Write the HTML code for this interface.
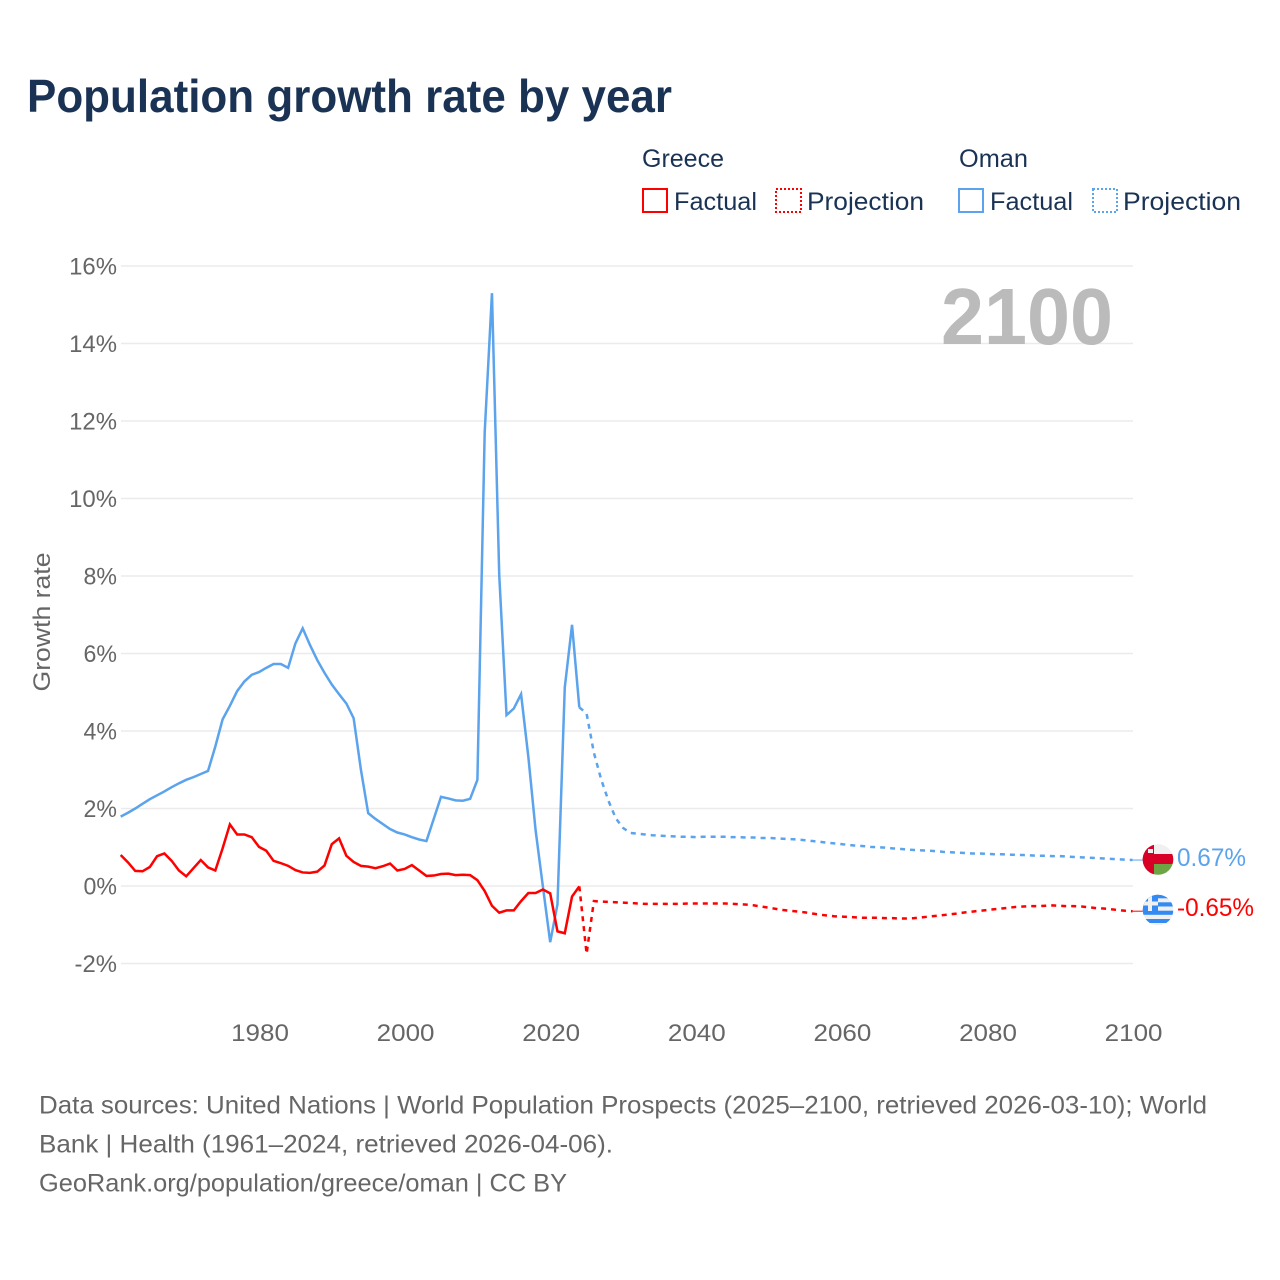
<!DOCTYPE html>
<html lang="en">
<head>
<meta charset="utf-8">
<title>Population growth rate by year</title>
<style>
html,body{margin:0;padding:0;background:#fff;width:1280px;height:1280px;overflow:hidden}
svg{display:block}
text{font-family:"Liberation Sans",sans-serif}
</style>
</head>
<body>
<svg id="chart" width="1280" height="1280" viewBox="0 0 1280 1280" xmlns="http://www.w3.org/2000/svg">
<defs>
<clipPath id="clip-oman"><circle cx="1158" cy="859.5" r="15.3"/></clipPath>
<clipPath id="clip-greece"><circle cx="1158" cy="910" r="15.3"/></clipPath>
</defs>
<rect x="0" y="0" width="1280" height="1280" fill="#fff"/>
<text x="27" y="112" font-size="46" font-weight="700" fill="#1a3355" textLength="645" lengthAdjust="spacingAndGlyphs">Population growth rate by year</text>

<g font-size="25" fill="#1a3355">
<text x="642" y="167" textLength="82" lengthAdjust="spacingAndGlyphs">Greece</text>
<text x="959" y="167" textLength="69" lengthAdjust="spacingAndGlyphs">Oman</text>
<rect x="643" y="189" width="24" height="23" fill="none" stroke="#ff0000" stroke-width="2"/>
<text x="674" y="210" textLength="83" lengthAdjust="spacingAndGlyphs">Factual</text>
<rect x="776" y="189" width="25" height="23" fill="none" stroke="#ff0000" stroke-width="2" stroke-dasharray="2 2"/>
<text x="807" y="210" textLength="117" lengthAdjust="spacingAndGlyphs">Projection</text>
<rect x="959" y="189" width="24" height="23" fill="none" stroke="#5ba3ec" stroke-width="2"/>
<text x="990" y="210" textLength="83" lengthAdjust="spacingAndGlyphs">Factual</text>
<rect x="1093" y="189" width="24" height="23" fill="none" stroke="#5ba3ec" stroke-width="2" stroke-dasharray="2 2"/>
<text x="1123" y="210" textLength="118" lengthAdjust="spacingAndGlyphs">Projection</text>
</g>

<g id="grid"></g>
<g id="yticks" font-size="24" fill="#666"></g>
<g id="xticks" font-size="24" fill="#666"></g>
<text transform="translate(50,622) rotate(-90)" text-anchor="middle" font-size="24" fill="#666" textLength="139" lengthAdjust="spacingAndGlyphs">Growth rate</text>
<text x="941" y="344" font-size="80" font-weight="700" fill="#bbbbbb" textLength="172" lengthAdjust="spacingAndGlyphs">2100</text>
<g id="series"></g>

<g clip-path="url(#clip-oman)">
<rect x="1142" y="843" width="32" height="34" fill="#f0f0f0"/>
<rect x="1142" y="854" width="32" height="10" fill="#d80027"/>
<rect x="1142" y="864" width="32" height="13" fill="#6da544"/>
<rect x="1142" y="843" width="12" height="34" fill="#d80027"/>
<rect x="1148" y="849" width="5" height="4" fill="#f0f0f0"/>
</g>
<g clip-path="url(#clip-greece)">
<rect x="1142" y="894" width="32" height="32" fill="#f0f0f0"/>
<rect x="1142" y="894" width="32" height="4.3" fill="#338af3"/>
<rect x="1142" y="902.3" width="32" height="4.2" fill="#338af3"/>
<rect x="1142" y="910.7" width="32" height="4.1" fill="#338af3"/>
<rect x="1142" y="919" width="32" height="4" fill="#338af3"/>
<rect x="1142" y="894" width="16" height="17" fill="#338af3"/>
<rect x="1148" y="894" width="4" height="17" fill="#f0f0f0"/>
<rect x="1142" y="901.5" width="16" height="4" fill="#f0f0f0"/>
</g>
<text x="1177" y="866" font-size="25" fill="#5ba3ec" textLength="69" lengthAdjust="spacingAndGlyphs">0.67%</text>
<text x="1177" y="916" font-size="25" fill="#ff0000" textLength="77" lengthAdjust="spacingAndGlyphs">-0.65%</text>

<g font-size="25" fill="#666">
<text x="39" y="1113.5" textLength="1168" lengthAdjust="spacingAndGlyphs">Data sources: United Nations | World Population Prospects (2025–2100, retrieved 2026-03-10); World</text>
<text x="39" y="1152.5" textLength="574" lengthAdjust="spacingAndGlyphs">Bank | Health (1961–2024, retrieved 2026-04-06).</text>
<text x="39" y="1191.5" textLength="528" lengthAdjust="spacingAndGlyphs">GeoRank.org/population/greece/oman | CC BY</text>
</g>
</svg>
<script>
const xTickYears = [1980, 2000, 2020, 2040, 2060, 2080, 2100];
const yTickValues = [-2, 0, 2, 4, 6, 8, 10, 12, 14, 16];
const factualStartYear = 1961;
const projectionStartYear = 2024;
const omanFactual = [1.79,1.89,2.0,2.12,2.24,2.34,2.44,2.55,2.65,2.74,2.81,2.89,2.97,3.6,4.3,4.65,5.03,5.28,5.45,5.52,5.63,5.73,5.73,5.63,6.26,6.65,6.22,5.83,5.5,5.2,4.95,4.71,4.33,3.0,1.88,1.73,1.6,1.47,1.38,1.33,1.26,1.2,1.16,1.73,2.3,2.26,2.21,2.2,2.25,2.74,11.7,15.3,8.02,4.41,4.58,4.95,3.33,1.43,-0.02,-1.45,-0.47,5.12,6.74,4.61];
const greeceFactual = [0.80,0.61,0.39,0.38,0.49,0.77,0.84,0.65,0.40,0.25,0.46,0.67,0.48,0.40,0.97,1.59,1.33,1.33,1.26,1.01,0.91,0.65,0.59,0.52,0.41,0.35,0.34,0.37,0.53,1.08,1.23,0.78,0.62,0.52,0.50,0.46,0.51,0.58,0.40,0.44,0.54,0.40,0.26,0.27,0.31,0.32,0.28,0.29,0.28,0.15,-0.13,-0.51,-0.69,-0.63,-0.63,-0.39,-0.18,-0.18,-0.09,-0.19,-1.17,-1.22,-0.27,-0.01];
const omanProjection = [4.61,4.45,3.44,2.75,2.2,1.75,1.5,1.37,1.35,1.33,1.31,1.3,1.29,1.28,1.27,1.27,1.26,1.27,1.27,1.27,1.27,1.26,1.26,1.25,1.25,1.24,1.24,1.23,1.22,1.21,1.2,1.18,1.16,1.14,1.12,1.1,1.08,1.06,1.04,1.03,1.01,1.0,0.99,0.97,0.96,0.94,0.93,0.92,0.91,0.9,0.88,0.87,0.86,0.85,0.84,0.84,0.83,0.82,0.82,0.81,0.8,0.8,0.79,0.78,0.78,0.77,0.77,0.76,0.75,0.74,0.73,0.72,0.71,0.7,0.69,0.68,0.67];
const greeceProjection = [-0.01,-1.75,-0.39,-0.4,-0.41,-0.42,-0.43,-0.44,-0.45,-0.46,-0.46,-0.46,-0.46,-0.46,-0.46,-0.45,-0.45,-0.45,-0.45,-0.45,-0.45,-0.46,-0.47,-0.48,-0.5,-0.53,-0.56,-0.59,-0.62,-0.64,-0.66,-0.68,-0.71,-0.74,-0.76,-0.78,-0.79,-0.8,-0.81,-0.82,-0.82,-0.82,-0.83,-0.83,-0.84,-0.84,-0.83,-0.81,-0.79,-0.77,-0.75,-0.73,-0.71,-0.68,-0.66,-0.64,-0.62,-0.6,-0.58,-0.56,-0.54,-0.53,-0.52,-0.52,-0.51,-0.5,-0.51,-0.52,-0.52,-0.53,-0.55,-0.57,-0.58,-0.6,-0.62,-0.64,-0.65];

const SVGNS = 'http://www.w3.org/2000/svg';
function xScale(year) { return 259 + (year - 1980) * 7.28; }
function yScale(value) { return 886 - value * 38.75; }
function labelWidth(label) {
  let w = 0;
  for (const c of String(label)) { w += c === '%' ? 19 : c === '-' ? 9 : 14.45; }
  return w;
}
function buildPath(values, startYear) {
  return values.map(function (v, i) {
    return (i ? 'L' : 'M') + xScale(startYear + i).toFixed(2) + ' ' + yScale(v).toFixed(2);
  }).join(' ');
}
function make(tag, parent) {
  const el = document.createElementNS(SVGNS, tag);
  parent.appendChild(el);
  return el;
}

const grid = document.getElementById('grid');
const yticks = document.getElementById('yticks');
yTickValues.forEach(function (v) {
  const line = make('line', grid);
  
  
  line.setAttribute('x1', 121);
  line.setAttribute('x2', 1133);
  line.setAttribute('y1', yScale(v));
  line.setAttribute('y2', yScale(v));
  line.setAttribute('stroke', '#ebebeb');
  line.setAttribute('stroke-width', '1.5');
  const t = make('text', yticks);
  
  
  const label = v + '%';
  const w = labelWidth(label);
  t.setAttribute('x', 117 - w);
  t.setAttribute('y', yScale(v) + 8.5);
  t.setAttribute('textLength', w);
  t.setAttribute('lengthAdjust', 'spacingAndGlyphs');
  t.textContent = label;
});

const xticks = document.getElementById('xticks');
xTickYears.forEach(function (year) {
  const t = make('text', xticks);
  
  
  const w = labelWidth(year);
  t.setAttribute('x', xScale(year) + 1 - w / 2);
  t.setAttribute('y', 1041);
  t.setAttribute('textLength', w);
  t.setAttribute('lengthAdjust', 'spacingAndGlyphs');
  t.textContent = year;
});

const series = document.getElementById('series');

const omanLine = make('path', series);


omanLine.setAttribute('d', buildPath(omanFactual, factualStartYear));
omanLine.setAttribute('fill', 'none');
omanLine.setAttribute('stroke', '#5ba3ec');
omanLine.setAttribute('stroke-width', '2.5');

const omanProj = make('path', series);


omanProj.setAttribute('d', buildPath(omanProjection, projectionStartYear));
omanProj.setAttribute('fill', 'none');
omanProj.setAttribute('stroke', '#5ba3ec');
omanProj.setAttribute('stroke-width', '2.5');
omanProj.setAttribute('stroke-dasharray', '5 5');

const greeceLine = make('path', series);


greeceLine.setAttribute('d', buildPath(greeceFactual, factualStartYear));
greeceLine.setAttribute('fill', 'none');
greeceLine.setAttribute('stroke', '#ff0000');
greeceLine.setAttribute('stroke-width', '2.5');

const greeceProj = make('path', series);


greeceProj.setAttribute('d', buildPath(greeceProjection, projectionStartYear));
greeceProj.setAttribute('fill', 'none');
greeceProj.setAttribute('stroke', '#ff0000');
greeceProj.setAttribute('stroke-width', '2.5');
greeceProj.setAttribute('stroke-dasharray', '5 5');

const omanConnector = make('line', series);


omanConnector.setAttribute('x1', xScale(2100));
omanConnector.setAttribute('x2', 1143);
omanConnector.setAttribute('y1', yScale(omanProjection[omanProjection.length - 1]));
omanConnector.setAttribute('y2', yScale(omanProjection[omanProjection.length - 1]));
omanConnector.setAttribute('stroke', '#5ba3ec');
omanConnector.setAttribute('stroke-width', '1');

const greeceConnector = make('line', series);


greeceConnector.setAttribute('x1', xScale(2100));
greeceConnector.setAttribute('x2', 1143);
greeceConnector.setAttribute('y1', yScale(greeceProjection[greeceProjection.length - 1]));
greeceConnector.setAttribute('y2', yScale(greeceProjection[greeceProjection.length - 1]));
greeceConnector.setAttribute('stroke', '#ff0000');
greeceConnector.setAttribute('stroke-width', '1');
</script>
</body>
</html>
